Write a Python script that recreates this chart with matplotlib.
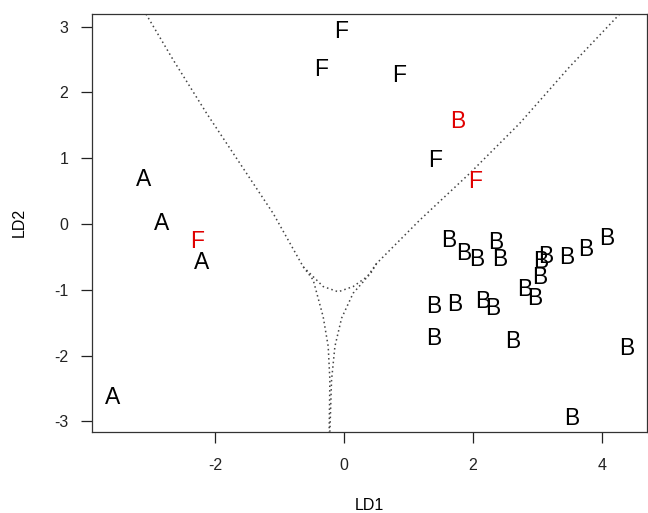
import matplotlib
matplotlib.use('Agg')
import matplotlib.pyplot as plt

plt.rcParams['font.family'] = ['Liberation Sans', 'DejaVu Sans']
plt.rcParams['axes.unicode_minus'] = False

# group letters at (LD1, LD2); red ones are misclassified
ld1 = [-3.12, -2.83, -2.21, -3.60, -2.29,
       -0.04, -0.36, 0.86, 1.41, 1.76, 2.04,
       1.62, 1.85, 2.06, 2.35, 2.42, 3.05, 3.13, 3.04, 2.80, 2.96,
       3.45, 3.75, 4.08, 1.39, 1.71, 2.15, 2.31, 1.39, 2.62, 4.38, 3.53]
ld2 = [0.67, 0.00, -0.58, -2.64, -0.27,
       2.93, 2.34, 2.25, 0.97, 1.55, 0.64,
       -0.25, -0.45, -0.54, -0.28, -0.54, -0.57, -0.50, -0.82, -1.00, -1.13,
       -0.51, -0.38, -0.22, -1.25, -1.23, -1.18, -1.28, -1.74, -1.79, -1.89, -2.95]
labels = ['A', 'A', 'A', 'A', 'F',
          'F', 'F', 'F', 'F', 'B', 'F',
          'B', 'B', 'B', 'B', 'B', 'B', 'B', 'B', 'B', 'B',
          'B', 'B', 'B', 'B', 'B', 'B', 'B', 'B', 'B', 'B', 'B']
wrong = [0, 0, 0, 0, 1,
         0, 0, 0, 0, 1, 1,
         0, 0, 0, 0, 0, 0, 0, 0, 0, 0,
         0, 0, 0, 0, 0, 0, 0, 0, 0, 0, 0]

# partition boundaries
left_x = [-3.077, -2.653, -2.135, -1.618, -1.102, -0.636, -0.481, -0.326, -0.248, -0.222, -0.233]
left_y = [3.19, 2.49, 1.68, 0.92, 0.16, -0.65, -0.85, -1.41, -1.86, -2.37, -3.155]
mid_x = [-0.636, -0.326, -0.093, 0.140, 0.399, 0.503]
mid_y = [-0.65, -0.95, -1.03, -0.95, -0.77, -0.60]
right_x = [4.278, 3.502, 2.726, 1.950, 1.174, 0.503, 0.321, 0.140, -0.040, -0.144, -0.196, -0.222]
right_y = [3.19, 2.39, 1.53, 0.77, 0.06, -0.60, -0.85, -1.05, -1.43, -1.86, -2.37, -3.155]

fig = plt.figure(figsize=(6.48, 5.13), dpi=100)
ax = fig.add_axes([0.142, 0.1585, 0.857, 0.8142])

for xs, ys in [(left_x, left_y), (mid_x, mid_y), (right_x, right_y)]:
    ax.plot(xs, ys, color='#444444', lw=1.1, linestyle=(0, (1, 2)))

for x, y, s, w in zip(ld1, ld2, labels, wrong):
    ax.text(x, y, s, ha='center', va='center', fontsize=16.5,
            color='#e00000' if w else 'black')

ax.set_xlim(-3.915, 4.707)
ax.set_ylim(-3.155, 3.19)
ax.set_xticks([-2, 0, 2, 4])
ax.set_yticks([-3, -2, -1, 0, 1, 2, 3])
ax.tick_params(direction='out', length=8, width=0.9, labelsize=11.5,
               colors='#222222')
ax.tick_params(axis='x', pad=11)
ax.tick_params(axis='y', pad=9)
for sp in ax.spines.values():
    sp.set_linewidth(0.9)
    sp.set_color('#333333')
ax.set_xlabel('LD1', fontsize=11.5, labelpad=18)
ax.set_ylabel('LD2', fontsize=11.5, labelpad=20)

fig.savefig('out.png', dpi=100)
